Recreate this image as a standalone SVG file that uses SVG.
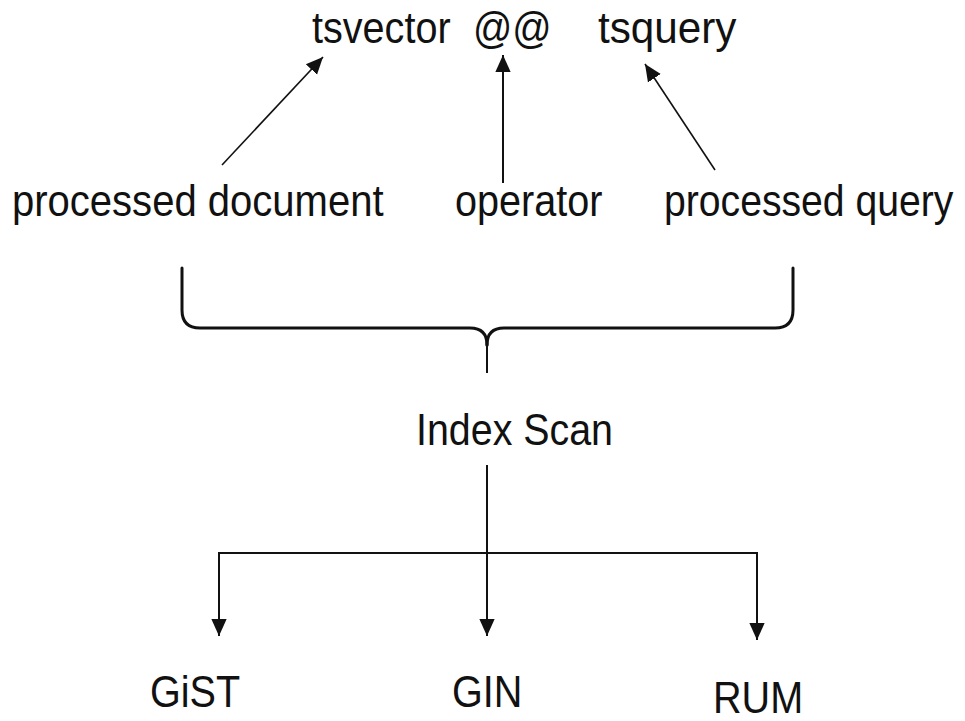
<svg xmlns="http://www.w3.org/2000/svg" width="965" height="721" viewBox="0 0 965 721">
  <style>
    .lbl { font-family: "Liberation Sans", Arial, sans-serif; font-size: 44px; fill: #111; }
    .ln { fill: none; stroke: #111; stroke-width: 2; }
    .thin { stroke-width: 1.6; }
    .brace { fill: none; stroke: #111; stroke-width: 3; stroke-linecap: round; }
  </style>
  <defs>
    <marker id="arrBig" viewBox="0 0 10 10" refX="10" refY="5" markerWidth="17" markerHeight="17" markerUnits="userSpaceOnUse" orient="auto">
      <path d="M0,0.5 L10,5 L0,9.5 Z" fill="#111"/>
    </marker>
  </defs>
  <rect width="965" height="721" fill="#ffffff"/>

  <!-- labels are set in a slightly condensed face: 90% horizontal scale -->
  <!-- match expression -->
  <g id="tsvector"><text class="lbl" transform="translate(312,43) scale(0.9,1)">tsvector</text></g>
  <g id="op-symbol"><text class="lbl" transform="translate(473,43) scale(0.88,1)">@@</text></g>
  <g id="tsquery"><text class="lbl" transform="translate(598,43) scale(0.96,1)">tsquery</text></g>

  <!-- inputs -->
  <g id="processed-document"><text class="lbl" transform="translate(12,216) scale(0.91,1)">processed document</text></g>
  <g id="operator"><text class="lbl" transform="translate(455,216) scale(0.9,1)">operator</text></g>
  <g id="processed-query"><text class="lbl" transform="translate(664,216) scale(0.89,1)">processed query</text></g>

  <g id="index-scan"><text class="lbl" transform="translate(416,445) scale(0.895,1)">Index Scan</text></g>

  <!-- index types -->
  <g id="gist"><text class="lbl" transform="translate(150,707) scale(0.9,1)">GiST</text></g>
  <g id="gin"><text class="lbl" transform="translate(452,707) scale(0.9,1)">GIN</text></g>
  <g id="rum"><text class="lbl" transform="translate(713,713) scale(0.9,1)">RUM</text></g>

  <g id="connectors">
    <!-- arrows into the match expression -->
    <line class="ln thin" x1="222" y1="165" x2="323" y2="57" marker-end="url(#arrBig)"/>
    <line class="ln" x1="503" y1="183" x2="503" y2="55" marker-end="url(#arrBig)"/>
    <line class="ln thin" x1="715" y1="170" x2="645" y2="64" marker-end="url(#arrBig)"/>

    <!-- curly brace grouping the three inputs -->
    <path class="brace" d="M182,268 V310 Q182,328 200,328 H470 Q487,328 487,345"/>
    <path class="brace" d="M793,268 V310 Q793,328 775,328 H504 Q487,328 487,345"/>
    <path class="ln" d="M487,343 V373"/>

    <!-- fan-out to the index types -->
    <line class="ln" x1="487" y1="465" x2="487" y2="636" marker-end="url(#arrBig)"/>
    <line class="ln" x1="218" y1="553" x2="757" y2="553"/>
    <line class="ln" x1="219" y1="552" x2="219" y2="636" marker-end="url(#arrBig)"/>
    <line class="ln" x1="757" y1="552" x2="757" y2="640" marker-end="url(#arrBig)"/>
  </g>
</svg>
